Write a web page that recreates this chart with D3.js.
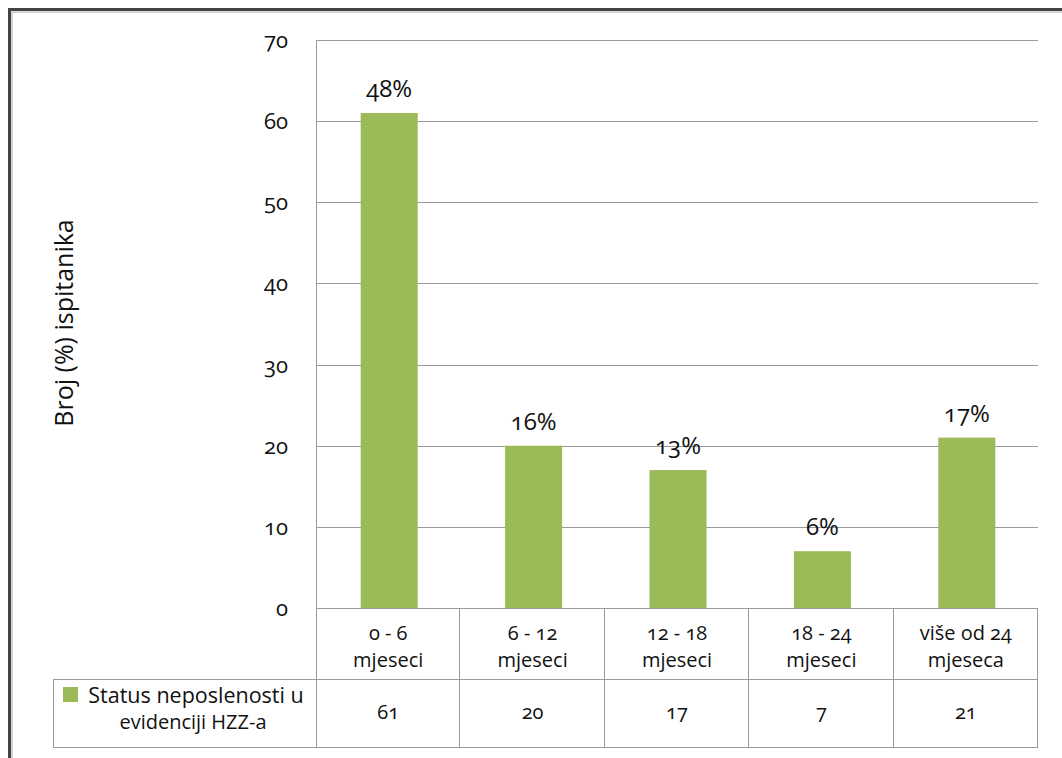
<!DOCTYPE html>
<html><head><meta charset="utf-8">
<script src="https://cdn.jsdelivr.net/npm/d3@7"></script>
<style>
body{margin:0;background:#fff;}
svg text{font-family:"Open Sans",Lato,sans-serif;fill:#111;font-variant-numeric:oldstyle-nums;}
</style></head>
<body>
<script>
const categories = [["0 - 6","mjeseci"],["6 - 12","mjeseci"],["12 - 18","mjeseci"],["18 - 24","mjeseci"],["više od 24","mjeseca"]];
const values = [61, 20, 17, 7, 21];
const percentLabels = ["48%","16%","13%","6%","17%"];
const yTicks = [0,10,20,30,40,50,60,70];
const seriesName = ["Status neposlenosti u","evidenciji HZZ-a"];
const yTitle = "Broj (%) ispitanika";

(function(){
const W = 1062, H = 758;
const pLeft = 316, pRight = 1038, pTop = 40, pBottom = 608;
const row1 = 679, row2 = 747, legendLeft = 53;
const green = "#9BBB59", grid = "#9a9a9a";

const svg = d3.select("body").append("svg").attr("width", W).attr("height", H);

// outer frame
svg.append("path").attr("d", `M9.5,${H} V9.5 H${W}`).attr("fill","none").attr("stroke","#444").attr("stroke-width",3);
svg.append("path").attr("d", `M12,${H} V12 H${W}`).attr("fill","none").attr("stroke","#aaa").attr("stroke-width",1);

const x = d3.scaleBand().domain(d3.range(categories.length)).range([pLeft, pRight]).paddingInner(0).paddingOuter(0);
const y = d3.scaleLinear().domain([0,70]).range([pBottom, pTop]);

// gridlines
svg.append("g").selectAll("line").data(yTicks).join("line")
  .attr("x1", pLeft).attr("x2", pRight)
  .attr("y1", d => Math.round(y(d)) + 0.5).attr("y2", d => Math.round(y(d)) + 0.5)
  .attr("stroke", grid).attr("stroke-width", 1);

// y axis line
svg.append("line").attr("x1", pLeft+0.5).attr("x2", pLeft+0.5).attr("y1", pTop).attr("y2", row2)
  .attr("stroke", grid);

// tick labels
svg.append("g").selectAll("text").data(yTicks).join("text")
  .attr("x", 288).attr("y", d => y(d) + 8)
  .attr("text-anchor","end").attr("font-size", 22).text(d => d);

// y title
svg.append("text").attr("transform", `translate(73,${323}) rotate(-90)`)
  .attr("text-anchor","middle").attr("font-size", 25).text(yTitle);

// bars
const bw = x.bandwidth() * 0.395;
svg.append("g").selectAll("rect").data(values).join("rect")
  .attr("x", (d,i) => x(i) + x.bandwidth()/2 - bw/2 + 1)
  .attr("width", bw)
  .attr("y", d => y(d)).attr("height", d => pBottom - y(d))
  .attr("fill", green);

// data labels
svg.append("g").selectAll("text").data(values).join("text")
  .attr("x", (d,i) => x(i) + x.bandwidth()/2 + 1)
  .attr("y", d => y(d) - 16)
  .attr("text-anchor","middle").attr("font-size", 24)
  .text((d,i) => percentLabels[i]);

// table
const tg = svg.append("g").attr("stroke", grid).attr("stroke-width", 1);
tg.append("line").attr("x1", pLeft).attr("x2", pRight).attr("y1", pBottom+0.5).attr("y2", pBottom+0.5);
tg.append("line").attr("x1", legendLeft).attr("x2", pRight).attr("y1", row1+0.5).attr("y2", row1+0.5);
tg.append("line").attr("x1", legendLeft).attr("x2", pRight).attr("y1", row2+0.5).attr("y2", row2+0.5);
tg.append("line").attr("x1", legendLeft+0.5).attr("x2", legendLeft+0.5).attr("y1", row1).attr("y2", row2);
tg.selectAll("line.v").data(d3.range(1, categories.length+1)).join("line").attr("class","v")
  .attr("x1", i => Math.round(x(0) + i*x.bandwidth()) - 0.5)
  .attr("x2", i => Math.round(x(0) + i*x.bandwidth()) - 0.5)
  .attr("y1", pBottom).attr("y2", row2);

// category labels
const cg = svg.append("g").selectAll("text").data(categories).join("text")
  .attr("text-anchor","middle").attr("font-size", 20);
cg.append("tspan").attr("x", (d,i) => x(i) + x.bandwidth()/2).attr("y", 640).text(d => d[0]);
cg.append("tspan").attr("x", (d,i) => x(i) + x.bandwidth()/2).attr("y", 667).text(d => d[1]);

// values row
svg.append("g").selectAll("text").data(values).join("text")
  .attr("x", (d,i) => x(i) + x.bandwidth()/2).attr("y", 719)
  .attr("text-anchor","middle").attr("font-size", 20).text(d => d);

// legend cell
svg.append("rect").attr("x", 63).attr("y", 687).attr("width", 15).attr("height", 15).attr("fill", green);
svg.append("text").attr("x", 196).attr("y", 703).attr("text-anchor","middle").attr("font-size", 21.5).text(seriesName[0]);
svg.append("text").attr("x", 193).attr("y", 729).attr("text-anchor","middle").attr("font-size", 20).text(seriesName[1]);
})();
</script>
</body></html>
